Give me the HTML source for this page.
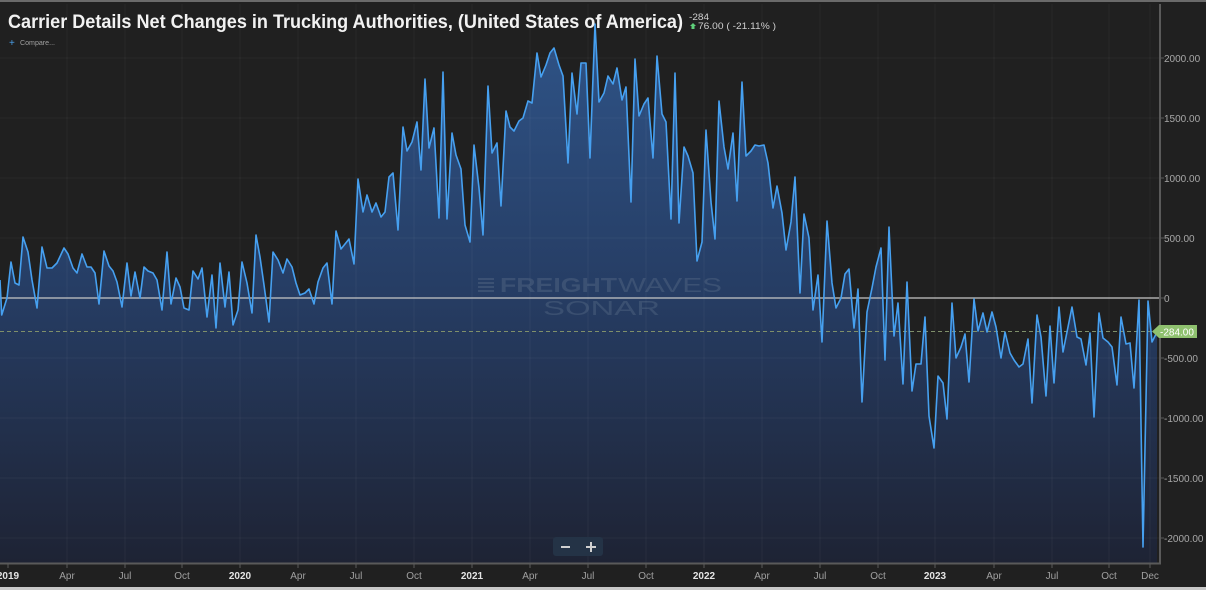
<!DOCTYPE html>
<html><head><meta charset="utf-8"><style>
html,body{margin:0;padding:0;background:#202020;}
svg{display:block;}
text{font-family:"Liberation Sans",sans-serif;}
</style></head><body>
<svg width="1206" height="590" viewBox="0 0 1206 590" xmlns="http://www.w3.org/2000/svg">
<defs>
<linearGradient id="g" gradientUnits="userSpaceOnUse" x1="0" y1="20" x2="0" y2="563">
<stop offset="0" stop-color="#2f5488"/>
<stop offset="0.5" stop-color="#263d64"/>
<stop offset="1" stop-color="#1e2334"/>
</linearGradient>
</defs>
<rect width="1206" height="590" fill="#202020"/>
<rect x="0" y="0" width="1206" height="2" fill="#6a6a6a"/>
<rect x="0" y="587" width="1206" height="3" fill="#c8c8c8"/>

<!-- area -->
<polygon fill="url(#g)" points="0,563 0,280 1.7,315 7,298 11,262 15,283 19,285 23,237 28,252 32,280 37,308 42,247 47,268 52,268 57,263 64,248 68,254 73,268 77,273 82,254 87,267 91,267 95,273 99,304 104,251 109,266 113,271 117,282 122,307 127,263 131,296 135,272 140,298 144,267 148,271 153,273 157,280 162,310 167,252 171,304 176,278 180,287 184,308 189,310 193,271 198,279 202,268 207,317 212,275 216,328 220,263 225,307 229,272 233,325 238,310 242,262 247,283 252,313 256,235 260,257 264,285 269,322 273,252 278,260 283,273 287,259 292,267 296,283 300,295 305,293 309,289 314,304 318,282 323,268 327,263 332,304 336,231 341,249 345,244 349,239 354,264 358,179 363,212 367,195 372,212 376,203 381,217 385,212 389,177 393,173 398,230 403,127 407,151 412,142 417,122 421,170 425,79 429,148 434,128 439,218 443,72 447,219 452,133 456,155 461,169 465,225 470,242 474,145 479,188 483,235 488,86 492,153 497,143 501,206 506,111 510,127 514,131 519,121 523,118 528,101 532,103 537,53 541,77 546,65 550,53 554,48 559,65 563,76 568,163 572,73 577,114 581,63 586,63 590,158 595,24 599,102 604,93 608,76 613,84 617,68 622,100 626,87 631,202 635,59 639,116 644,104 648,98 653,158 657,56 662,114 666,122 671,219 675,73 679,223 684,147 688,156 693,173 697,261 702,242 706,130 711,202 715,239 719,101 724,147 728,169 733,133 737,201 742,82 746,156 751,151 755,145 759,146 764,145 768,163 773,208 777,186 782,213 786,250 791,222 795,177 800,293 804,214 809,238 813,310 818,275 822,342 827,221 832,283 836,308 841,298 845,274 849,269 854,328 858,289 862,402 867,312 872,288 876,267 881,248 885,360 889,227 894,336 898,303 903,384 907,282 912,391 916,364 921,364 925,317 929,416 934,448 938,376 943,383 947,419 952,303 956,358 961,347 965,334 969,382 974,299 978,331 983,313 987,332 992,312 996,327 1001,358 1005,332 1010,353 1014,360 1019,367 1023,364 1028,339 1032,403 1037,315 1041,337 1046,396 1050,326 1054,383 1059,307 1063,352 1068,327 1072,307 1077,337 1081,339 1086,365 1090,333 1094,417 1099,313 1103,338 1108,342 1112,347 1117,385 1121,317 1126,344 1130,343 1134,388 1139,300 1143,547 1148,301 1152,342 1157,332 1157,563"/>

<!-- grid -->
<g stroke="#ffffff" stroke-opacity="0.045" stroke-width="1">
<line x1="0" y1="58" x2="1160" y2="58"/><line x1="0" y1="118" x2="1160" y2="118"/><line x1="0" y1="178" x2="1160" y2="178"/><line x1="0" y1="238" x2="1160" y2="238"/><line x1="0" y1="358" x2="1160" y2="358"/><line x1="0" y1="418" x2="1160" y2="418"/><line x1="0" y1="478" x2="1160" y2="478"/><line x1="0" y1="538" x2="1160" y2="538"/>
<line x1="67" y1="4" x2="67" y2="563"/><line x1="125" y1="4" x2="125" y2="563"/><line x1="182" y1="4" x2="182" y2="563"/><line x1="240" y1="4" x2="240" y2="563"/><line x1="298" y1="4" x2="298" y2="563"/><line x1="356" y1="4" x2="356" y2="563"/><line x1="414" y1="4" x2="414" y2="563"/><line x1="472" y1="4" x2="472" y2="563"/><line x1="530" y1="4" x2="530" y2="563"/><line x1="588" y1="4" x2="588" y2="563"/><line x1="646" y1="4" x2="646" y2="563"/><line x1="704" y1="4" x2="704" y2="563"/><line x1="762" y1="4" x2="762" y2="563"/><line x1="820" y1="4" x2="820" y2="563"/><line x1="878" y1="4" x2="878" y2="563"/><line x1="935" y1="4" x2="935" y2="563"/><line x1="994" y1="4" x2="994" y2="563"/><line x1="1052" y1="4" x2="1052" y2="563"/><line x1="1109" y1="4" x2="1109" y2="563"/><line x1="1150" y1="4" x2="1150" y2="563"/>
</g>

<!-- watermark -->
<g fill="#74849c" fill-opacity="0.28">
<g>
<rect x="478" y="278" width="16" height="2"/><rect x="478" y="282" width="16" height="2"/><rect x="478" y="286" width="16" height="2"/><rect x="478" y="290" width="16" height="2"/>
</g>
<text x="500" y="292" font-size="20" font-weight="bold" textLength="117" lengthAdjust="spacingAndGlyphs">FREIGHT</text>
<text x="618" y="292" font-size="20" textLength="104" lengthAdjust="spacingAndGlyphs">WAVES</text>
<text x="543" y="315" font-size="20" textLength="117" lengthAdjust="spacingAndGlyphs">SONAR</text>
</g>

<!-- zero line and last value line -->
<line x1="0" y1="298" x2="1160" y2="298" stroke="#c4c4c4" stroke-width="1.6" stroke-opacity="0.85"/>
<line x1="0" y1="331.5" x2="1155" y2="331.5" stroke="#7f8f6a" stroke-width="1" stroke-dasharray="4,3"/>

<!-- series line -->
<polyline fill="none" stroke="#46a0f0" stroke-width="1.6" stroke-linejoin="round" points="0,280 1.7,315 7,298 11,262 15,283 19,285 23,237 28,252 32,280 37,308 42,247 47,268 52,268 57,263 64,248 68,254 73,268 77,273 82,254 87,267 91,267 95,273 99,304 104,251 109,266 113,271 117,282 122,307 127,263 131,296 135,272 140,298 144,267 148,271 153,273 157,280 162,310 167,252 171,304 176,278 180,287 184,308 189,310 193,271 198,279 202,268 207,317 212,275 216,328 220,263 225,307 229,272 233,325 238,310 242,262 247,283 252,313 256,235 260,257 264,285 269,322 273,252 278,260 283,273 287,259 292,267 296,283 300,295 305,293 309,289 314,304 318,282 323,268 327,263 332,304 336,231 341,249 345,244 349,239 354,264 358,179 363,212 367,195 372,212 376,203 381,217 385,212 389,177 393,173 398,230 403,127 407,151 412,142 417,122 421,170 425,79 429,148 434,128 439,218 443,72 447,219 452,133 456,155 461,169 465,225 470,242 474,145 479,188 483,235 488,86 492,153 497,143 501,206 506,111 510,127 514,131 519,121 523,118 528,101 532,103 537,53 541,77 546,65 550,53 554,48 559,65 563,76 568,163 572,73 577,114 581,63 586,63 590,158 595,24 599,102 604,93 608,76 613,84 617,68 622,100 626,87 631,202 635,59 639,116 644,104 648,98 653,158 657,56 662,114 666,122 671,219 675,73 679,223 684,147 688,156 693,173 697,261 702,242 706,130 711,202 715,239 719,101 724,147 728,169 733,133 737,201 742,82 746,156 751,151 755,145 759,146 764,145 768,163 773,208 777,186 782,213 786,250 791,222 795,177 800,293 804,214 809,238 813,310 818,275 822,342 827,221 832,283 836,308 841,298 845,274 849,269 854,328 858,289 862,402 867,312 872,288 876,267 881,248 885,360 889,227 894,336 898,303 903,384 907,282 912,391 916,364 921,364 925,317 929,416 934,448 938,376 943,383 947,419 952,303 956,358 961,347 965,334 969,382 974,299 978,331 983,313 987,332 992,312 996,327 1001,358 1005,332 1010,353 1014,360 1019,367 1023,364 1028,339 1032,403 1037,315 1041,337 1046,396 1050,326 1054,383 1059,307 1063,352 1068,327 1072,307 1077,337 1081,339 1086,365 1090,333 1094,417 1099,313 1103,338 1108,342 1112,347 1117,385 1121,317 1126,344 1130,343 1134,388 1139,300 1143,547 1148,301 1152,342 1157,332"/>

<!-- axes -->
<line x1="1160" y1="4" x2="1160" y2="564" stroke="#5a5a5a" stroke-width="2"/>
<line x1="0" y1="563.5" x2="1161" y2="563.5" stroke="#5a5a5a" stroke-width="2"/>
<g stroke="#5a5a5a" stroke-width="1">
<line x1="1160" y1="58" x2="1164" y2="58"/><line x1="1160" y1="118" x2="1164" y2="118"/><line x1="1160" y1="178" x2="1164" y2="178"/><line x1="1160" y1="238" x2="1164" y2="238"/><line x1="1160" y1="298" x2="1164" y2="298"/><line x1="1160" y1="358" x2="1164" y2="358"/><line x1="1160" y1="418" x2="1164" y2="418"/><line x1="1160" y1="478" x2="1164" y2="478"/><line x1="1160" y1="538" x2="1164" y2="538"/>
<line x1="8" y1="564" x2="8" y2="568"/><line x1="67" y1="564" x2="67" y2="568"/><line x1="125" y1="564" x2="125" y2="568"/><line x1="182" y1="564" x2="182" y2="568"/><line x1="240" y1="564" x2="240" y2="568"/><line x1="298" y1="564" x2="298" y2="568"/><line x1="356" y1="564" x2="356" y2="568"/><line x1="414" y1="564" x2="414" y2="568"/><line x1="472" y1="564" x2="472" y2="568"/><line x1="530" y1="564" x2="530" y2="568"/><line x1="588" y1="564" x2="588" y2="568"/><line x1="646" y1="564" x2="646" y2="568"/><line x1="704" y1="564" x2="704" y2="568"/><line x1="762" y1="564" x2="762" y2="568"/><line x1="820" y1="564" x2="820" y2="568"/><line x1="878" y1="564" x2="878" y2="568"/><line x1="935" y1="564" x2="935" y2="568"/><line x1="994" y1="564" x2="994" y2="568"/><line x1="1052" y1="564" x2="1052" y2="568"/><line x1="1109" y1="564" x2="1109" y2="568"/><line x1="1150" y1="564" x2="1150" y2="568"/>
</g>

<!-- y labels -->
<g font-size="10" fill="#a8a8a8">
<text x="1164" y="62">2000.00</text>
<text x="1164" y="122">1500.00</text>
<text x="1164" y="182">1000.00</text>
<text x="1164" y="242">500.00</text>
<text x="1164" y="302">0</text>
<text x="1164" y="362">-500.00</text>
<text x="1164" y="422">-1000.00</text>
<text x="1164" y="482">-1500.00</text>
<text x="1164" y="542">-2000.00</text>
</g>

<!-- last value tag -->
<polygon points="1152,331.5 1159,325 1197,325 1197,338 1159,338" fill="#8fc16f"/>
<text x="1160" y="335.5" font-size="10" fill="#ffffff">-284.00</text>

<!-- x labels -->
<g font-size="10" fill="#a0a0a0" text-anchor="middle">
<text x="8" y="579" fill="#e4e4e4" font-weight="bold">2019</text>
<text x="67" y="579">Apr</text>
<text x="125" y="579">Jul</text>
<text x="182" y="579">Oct</text>
<text x="240" y="579" fill="#e4e4e4" font-weight="bold">2020</text>
<text x="298" y="579">Apr</text>
<text x="356" y="579">Jul</text>
<text x="414" y="579">Oct</text>
<text x="472" y="579" fill="#e4e4e4" font-weight="bold">2021</text>
<text x="530" y="579">Apr</text>
<text x="588" y="579">Jul</text>
<text x="646" y="579">Oct</text>
<text x="704" y="579" fill="#e4e4e4" font-weight="bold">2022</text>
<text x="762" y="579">Apr</text>
<text x="820" y="579">Jul</text>
<text x="878" y="579">Oct</text>
<text x="935" y="579" fill="#e4e4e4" font-weight="bold">2023</text>
<text x="994" y="579">Apr</text>
<text x="1052" y="579">Jul</text>
<text x="1109" y="579">Oct</text>
<text x="1150" y="579">Dec</text>
</g>

<!-- zoom buttons -->
<rect x="553" y="537" width="50" height="19" rx="3" fill="#243346"/>
<rect x="561" y="546" width="9" height="2" fill="#d0d0d0"/>
<rect x="586" y="546" width="10" height="2" fill="#d0d0d0"/>
<rect x="590" y="542" width="2" height="10" fill="#d0d0d0"/>

<!-- title -->
<text x="8" y="28" font-size="19" font-weight="bold" fill="#f2f2f2" textLength="675" lengthAdjust="spacingAndGlyphs">Carrier Details Net Changes in Trucking Authorities, (United States of America)</text>
<text x="689" y="20" font-size="9" fill="#cfcfcf" textLength="20" lengthAdjust="spacingAndGlyphs">-284</text>
<polygon points="693,23 696,26 694.5,26 694.5,29 691.5,29 691.5,26 690,26" fill="#5fcf7a"/>
<text x="698" y="29" font-size="9" fill="#cfcfcf" textLength="78" lengthAdjust="spacingAndGlyphs">76.00 ( -21.11% )</text>
<text x="9" y="46" font-size="10" fill="#4a9fe8">+</text>
<text x="20" y="45" font-size="7" fill="#a0a0a0" textLength="35" lengthAdjust="spacingAndGlyphs">Compare...</text>
</svg>
</body></html>
